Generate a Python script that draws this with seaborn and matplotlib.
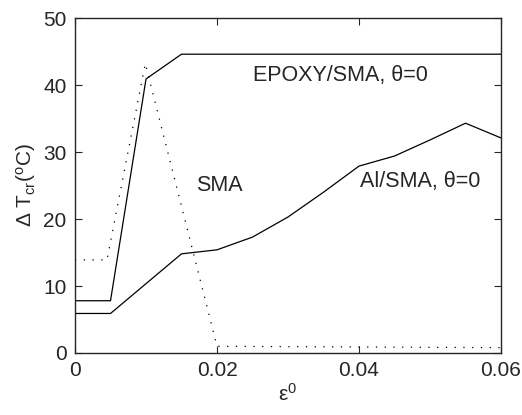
import numpy as np
import pandas as pd
import matplotlib
matplotlib.use("Agg")
import matplotlib.pyplot as plt
import seaborn as sns

# Data
epoxy_x = [0.0, 0.005, 0.010, 0.015, 0.060]
epoxy_y = [7.8, 7.8, 40.9, 44.6, 44.6]

al_x = [0.0, 0.005, 0.015, 0.020, 0.025, 0.030, 0.035, 0.040, 0.045, 0.050, 0.055, 0.060]
al_y = [5.9, 5.9, 14.8, 15.4, 17.3, 20.3, 24.0, 27.9, 29.4, 31.8, 34.3, 32.1]

sma_x = [0.0, 0.0045, 0.0099, 0.020, 0.060]
sma_y = [13.9, 13.9, 43.2, 1.0, 0.8]

xticks = [0, 0.02, 0.04, 0.06]
xtick_labels = ["0", "0.02", "0.04", "0.06"]
yticks = [0, 10, 20, 30, 40, 50]

labels = [("EPOXY/SMA, θ=0", 0.0250, 41.4),
          ("SMA", 0.0171, 25.0),
          ("Al/SMA, θ=0", 0.0401, 25.6)]

sns.set_style("ticks")
plt.rcParams['font.family'] = ['Liberation Sans', 'DejaVu Sans']
plt.rcParams['mathtext.fontset'] = 'custom'
plt.rcParams['mathtext.rm'] = 'Liberation Sans'
plt.rcParams['mathtext.it'] = 'Liberation Sans'

fig = plt.figure(figsize=(5.22, 4.15), dpi=100)
ax = fig.add_axes([0.1437, 0.1494, 0.8161, 0.8072])

df_e = pd.DataFrame({"x": epoxy_x, "y": epoxy_y})
df_a = pd.DataFrame({"x": al_x, "y": al_y})
df_s = pd.DataFrame({"x": sma_x, "y": sma_y})

sns.lineplot(data=df_e, x="x", y="y", ax=ax, color="black", lw=0.9, estimator=None, sort=False)
sns.lineplot(data=df_a, x="x", y="y", ax=ax, color="black", lw=0.9, estimator=None, sort=False)
sns.lineplot(data=df_s, x="x", y="y", ax=ax, color="black", lw=0.9, estimator=None, sort=False,
             linestyle=(0, (1, 6)))

for txt, x, y in labels:
    ax.text(x, y, txt, fontsize=15.5, va="center", ha="left")

ax.set_xlim(0, 0.06)
ax.set_ylim(0, 50)
ax.set_xticks(xticks)
ax.set_xticklabels(xtick_labels)
ax.set_yticks(yticks)
ax.tick_params(direction="in", top=True, right=True, labelsize=15, length=5, width=0.8, pad=6)
for s in ax.spines.values():
    s.set_linewidth(1.0)
    s.set_visible(True)

ax.set_xlabel(r"$\mathregular{\epsilon^0}$", fontsize=15, labelpad=2)
ax.set_ylabel(r"$\mathregular{\Delta\ T_{cr}(^oC)}$", fontsize=15, labelpad=4)

fig.savefig("out.png", dpi=100)
